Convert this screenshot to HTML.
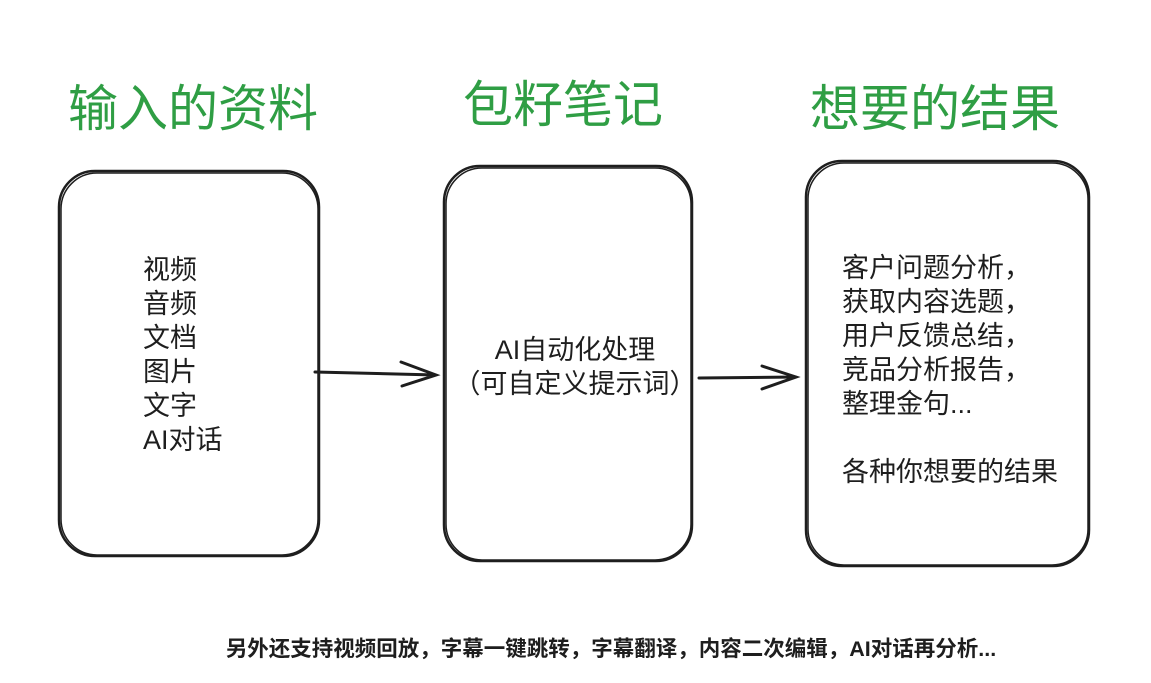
<!DOCTYPE html>
<html><head><meta charset="utf-8"><style>
body{margin:0;width:1151px;height:683px;background:#fff;position:relative;overflow:hidden;font-family:"Liberation Sans","Noto Sans CJK SC",sans-serif}
.t{position:absolute;color:#2f9e44;font-size:50px;line-height:1;white-space:nowrap}
.x{position:absolute;font-size:27px;line-height:34px;color:#1e1e1e;white-space:nowrap}
</style></head><body>
<svg width="1151" height="683" style="position:absolute;left:0;top:0" fill="none" stroke="#1e1e1e" stroke-width="2.5" stroke-linecap="round">
<rect x="59" y="171" width="260" height="385" rx="36"/>
<rect x="61" y="173" width="257" height="382" rx="36" stroke-width="1.5"/>
<rect x="444" y="166" width="248" height="395" rx="36"/>
<rect x="446" y="168" width="245" height="392" rx="36" stroke-width="1.5"/>
<rect x="806" y="161" width="283" height="405" rx="36"/>
<rect x="808" y="163" width="280" height="402" rx="36" stroke-width="1.5"/>
<path d="M315 372 L436 375 M401 362 L436 375 L402 386" stroke-width="3"/>
<path d="M699 378 L796 377 M762 366 L796 377 L762 389" stroke-width="3"/>
</svg>
<div class="t" style="left:68px;top:84px">输入的资料</div>
<div class="t" style="left:463px;top:80px">包籽笔记</div>
<div class="t" style="left:810px;top:84px">想要的结果</div>
<div class="x" style="left:143px;top:253px">视频<br>音频<br>文档<br>图片<br>文字<br>AI对话</div>
<div class="x" style="left:445px;width:260px;text-align:center;top:333px">AI自动化处理<br>（可自定义提示词）</div>
<div class="x" style="left:842px;top:251px">客户问题分析，<br>获取内容选题，<br>用户反馈总结，<br>竞品分析报告，<br>整理金句...<br><br>各种你想要的结果</div>
<div style="position:absolute;left:0;width:1222px;text-align:center;top:632px;font-size:21.5px;font-weight:bold;color:#1e1e1e;white-space:nowrap">另外还支持视频回放，字幕一键跳转，字幕翻译，内容二次编辑，AI对话再分析...</div>
</body></html>
